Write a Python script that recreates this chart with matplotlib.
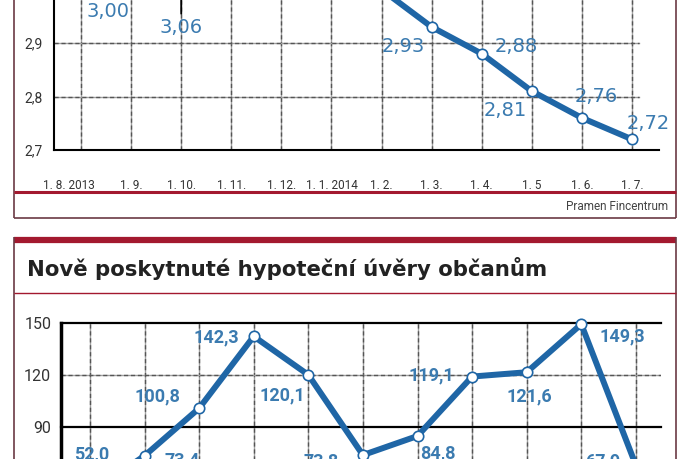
import matplotlib
matplotlib.use('Agg')
import matplotlib.pyplot as plt
import matplotlib.transforms as mtransforms
from matplotlib.lines import Line2D

# horni graf - sazby (cast nad vyrezem neni videt)
mesice = ['1. 8. 2013', '1. 9.', '1. 10.', '1. 11.', '1. 12.', '1. 1. 2014',
          '1. 2.', '1. 3.', '1. 4.', '1. 5', '1. 6.', '1. 7.']
sazby = [3.00, 3.03, 3.06, 3.07, 3.05, 3.03, 3.00, 2.93, 2.88, 2.81, 2.76, 2.72]
sazby_yticks = [2.7, 2.8, 2.9]

# dolni graf - nove hypoteky
uvery = [52.0, 73.4, 100.8, 142.3, 120.1, 73.8, 84.8, 119.1, 121.6, 149.3, 67.9]
uvery_yticks = [90, 120, 150]

titulek = 'Nově poskytnuté hypoteční úvěry občanům'
zdroj = 'Pramen Fincentrum'

# posuny popisku v pixelech (dx, dy), None = popisek mimo vyrez
off_sazby = [(27, -22), None, (0, -70), None, None, None,
             None, (-28, -20), (35, 7), (-27, -19), (14, 21), (16, 16)]
off_uvery = [(2, 38), (38, -5), (-42, 12), (-37, -1), (-26, -21), (-42, -6),
             (20, -17), (-41, 1), (3, -24), (41, -12), (-33, 4)]

W, H = 688, 459
MODRA = '#1f66a6'
TEXT_MODRA = '#3b7bb0'
CERVENA = '#a3192f'
RAM = '#6b3a44'


def fx(px):
    return px / W


def fy(py):
    return 1 - py / H


def carka(fig, x0, y0, x1, y1, color, lw):
    fig.add_artist(Line2D([fx(x0), fx(x1)], [fy(y0), fy(y1)], color=color,
                          lw=lw, transform=fig.transFigure, solid_capstyle='butt'))


def mrizka_x(ax, xs, y0, y1):
    for x in xs:
        ax.plot([x, x], [y0, y1], color='#a0a0a0', lw=1.0, zorder=1)
        ax.plot([x, x], [y0, y1], color='#555555', lw=1.0, ls=(0, (3, 2)), zorder=1)


fig = plt.figure(figsize=(W / 100, H / 100), dpi=100)
fig.patch.set_facecolor('white')

# ---- horni graf ----
ax1 = fig.add_axes([fx(54), fy(150), fx(659) - fx(54), 214 / H])
ax1.set_xlim(-0.54, 11.54)
ax1.set_ylim(2.7, 3.1)
x1 = list(range(len(sazby)))
mrizka_x(ax1, x1, 2.7, 3.1)
for y in [2.8, 2.9]:
    ax1.plot([-0.54, 11.15], [y, y], color='#a0a0a0', lw=1.0, zorder=1)
    ax1.plot([-0.54, 11.15], [y, y], color='#555555', lw=1.0, ls=(0, (3, 2)), zorder=1)
ax1.plot(x1, sazby, color=MODRA, lw=4.3, zorder=3, marker='o', markersize=7.5,
         markerfacecolor='white', markeredgecolor=MODRA, markeredgewidth=1.2,
         clip_on=False)
for i, v in enumerate(sazby):
    if off_sazby[i] is None:
        continue
    dx, dy = off_sazby[i]
    kw = {}
    if i == 2:
        kw['arrowprops'] = dict(arrowstyle='-', color='black', lw=1.3,
                                shrinkA=1, shrinkB=6, relpos=(0.5, 1.0))
    ax1.annotate(f'{v:.2f}'.replace('.', ','), (i, v), xytext=(dx, dy),
                 textcoords='offset pixels', ha='center', va='center',
                 fontsize=14, color=TEXT_MODRA, zorder=5, annotation_clip=False, **kw)
for s in ['top', 'right']:
    ax1.spines[s].set_visible(False)
ax1.spines['left'].set_linewidth(1.5)
ax1.spines['bottom'].set_linewidth(1.5)
ax1.set_xticks(x1)
ax1.set_xticklabels(mesice, fontsize=8.5, color='#333333', family='Roboto')
ax1.set_yticks(sazby_yticks)
ax1.set_yticklabels([f'{v:.1f}'.replace('.', ',') for v in sazby_yticks],
                    fontsize=10, color='#333333', family='Roboto')
ax1.tick_params(axis='x', length=0, pad=21)
ax1.tick_params(axis='y', length=0, pad=8)
# prvni popisek je v originale posunuty doleva
prvni = ax1.get_xticklabels()[0]
prvni.set_transform(prvni.get_transform() +
                    mtransforms.ScaledTranslation(-0.12, 0, fig.dpi_scale_trans))

# ---- dolni graf ----
ax2 = fig.add_axes([fx(61), fy(531), fx(661) - fx(61), 208 / H])
ax2.set_xlim(-0.53, 10.46)
ax2.set_ylim(30, 150)
x2 = list(range(len(uvery)))
mrizka_x(ax2, x2, 30, 150)
ax2.plot([-0.53, 10.46], [120, 120], color='#a0a0a0', lw=1.0, zorder=1)
ax2.plot([-0.53, 10.46], [120, 120], color='#555555', lw=1.0, ls=(0, (3, 2)), zorder=1)
for y in [90, 150]:
    ax2.plot([-0.53, 10.46], [y, y], color='black', lw=1.6, zorder=2, clip_on=False)
ax2.plot(x2, uvery, color=MODRA, lw=4.3, zorder=3, marker='o', markersize=7.5,
         markerfacecolor='white', markeredgecolor=MODRA, markeredgewidth=1.2,
         clip_on=False)
for i, v in enumerate(uvery):
    dx, dy = off_uvery[i]
    ax2.annotate(f'{v:.1f}'.replace('.', ','), (i, v), xytext=(dx, dy),
                 textcoords='offset pixels', ha='center', va='center',
                 fontsize=13, fontweight='bold', family='Roboto',
                 color=TEXT_MODRA, zorder=5, annotation_clip=False)
for s in ['top', 'right', 'bottom']:
    ax2.spines[s].set_visible(False)
ax2.spines['left'].set_linewidth(2.5)
ax2.set_xticks([])
ax2.set_yticks(uvery_yticks)
ax2.set_yticklabels([str(v) for v in uvery_yticks], fontsize=11.5,
                    color='#333333', family='Roboto')
ax2.tick_params(axis='y', length=0, pad=7)

# ---- ramecky ----
carka(fig, 14, 0, 14, 218, RAM, 1.2)
carka(fig, 676, 0, 676, 218, RAM, 1.2)
carka(fig, 14, 218, 676, 218, RAM, 1.2)
carka(fig, 14, 191.5, 676, 191.5, CERVENA, 2.2)
fig.text(fx(668), fy(207), zdroj, ha='right', va='center', fontsize=8.5,
         color='#444444', family='Roboto')

carka(fig, 14, 240, 676, 240, CERVENA, 4.5)
carka(fig, 14, 237, 14, 459, RAM, 1.2)
carka(fig, 676, 237, 676, 459, RAM, 1.2)
carka(fig, 14, 293, 676, 293, CERVENA, 1.0)
t = fig.text(fx(27), fy(269), titulek, ha='left', va='center', fontsize=15,
             fontweight='bold', color='#222222', family='DejaVu Sans')
# prizpusobit sirku titulku (cca 522 px)
r = fig.canvas.get_renderer()
w = t.get_window_extent(r).width
t.set_fontsize(15 * 522 / w)

fig.savefig('out.png', dpi=100)
